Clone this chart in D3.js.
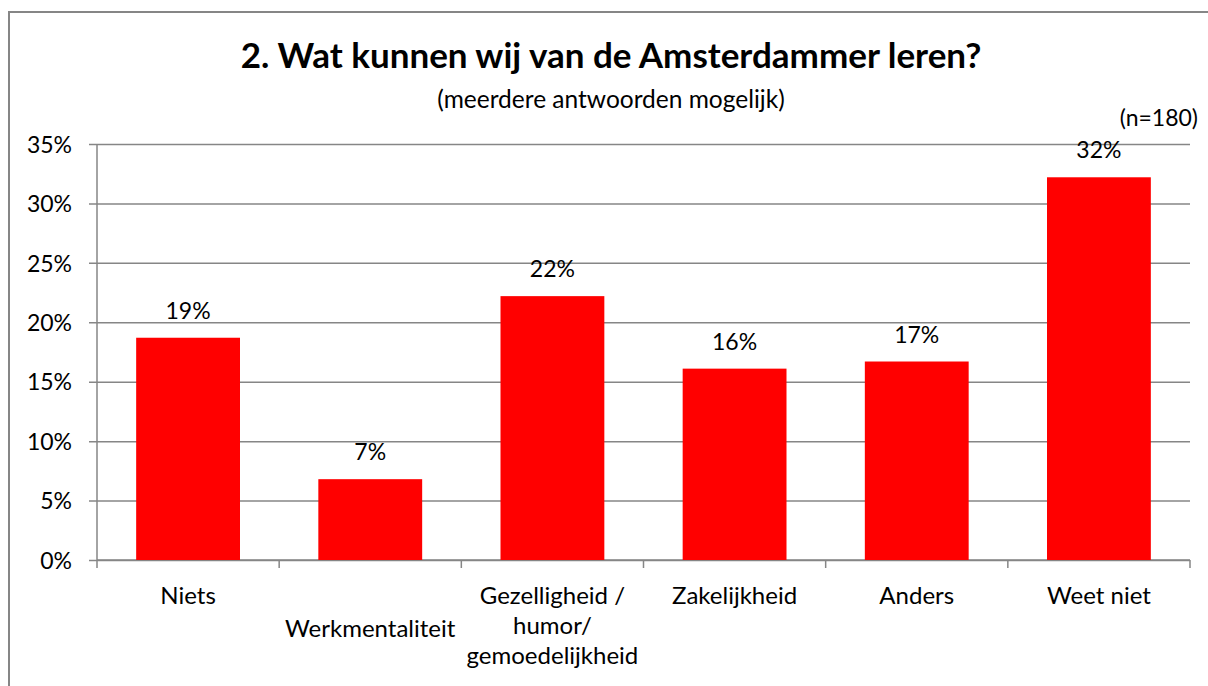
<!DOCTYPE html>
<html>
<head>
<meta charset="utf-8">
<script src="https://cdn.jsdelivr.net/npm/d3@7"></script>
<style>
  html, body { margin: 0; padding: 0; background: #fff; }
  svg { display: block; font-family: Lato, "Noto Sans", sans-serif; }
</style>
</head>
<body>
<svg id="chart" width="1208" height="686"></svg>
<script>
const categories = ["Niets", "Werkmentaliteit", "Gezelligheid /\nhumor/\ngemoedelijkheid", "Zakelijkheid", "Anders", "Weet niet"];
const values = [18.7, 6.8, 22.2, 16.1, 16.7, 32.2];
const valueLabels = ["19%", "7%", "22%", "16%", "17%", "32%"];
const yTicks = [0, 5, 10, 15, 20, 25, 30, 35];
const title = "2. Wat kunnen wij van de Amsterdammer leren?";
const subtitle = "(meerdere antwoorden mogelijk)";
const note = "(n=180)";

const svg = d3.select("#chart");
const gridColor = "#868686";

// outer border
svg.append("rect").attr("x", 9).attr("y", 12).attr("width", 1210).attr("height", 700)
  .attr("fill", "none").attr("stroke", "#868686").attr("stroke-width", 2);

const pLeft = 97, pRight = 1190, pTop = 144, pBottom = 560;
const x = d3.scaleBand().domain(categories).range([pLeft, pRight]).paddingInner(0.43).paddingOuter(0.215);
const xc = d3.scaleBand().domain(categories).range([pLeft, pRight]).padding(0);
const y = d3.scaleLinear().domain([0, 35]).range([pBottom, pTop]);

// gridlines + y ticks
const yAxis = d3.axisLeft(y).tickValues(yTicks).tickSize(-(pRight - pLeft)).tickFormat(d => d + "%").tickPadding(0);
const gy = svg.append("g").attr("transform", `translate(${pLeft},0)`).call(yAxis);
gy.select(".domain").remove();
gy.selectAll(".tick line").attr("stroke", gridColor).attr("stroke-width", 1.5).attr("x1", -8);
gy.selectAll(".tick text").attr("x", -25).attr("dy", "0.36em").attr("fill", "#000")
  .style("font-size", "23px").style("font-family", "Lato, sans-serif");

// y axis line
svg.append("line").attr("x1", pLeft).attr("x2", pLeft).attr("y1", pTop).attr("y2", pBottom)
  .attr("stroke", gridColor).attr("stroke-width", 1.5);

// x axis with category boundary ticks
svg.append("line").attr("x1", pLeft).attr("x2", pRight).attr("y1", pBottom).attr("y2", pBottom)
  .attr("stroke", gridColor).attr("stroke-width", 1.5);
const bounds = categories.map(c => xc(c)).concat([pRight]);
svg.append("g").selectAll("line").data(bounds).join("line")
  .attr("x1", d => d).attr("x2", d => d).attr("y1", pBottom).attr("y2", pBottom + 8)
  .attr("stroke", gridColor).attr("stroke-width", 1.5);

// bars
svg.append("g").selectAll("rect").data(values).join("rect")
  .attr("x", (d, i) => x(categories[i]))
  .attr("width", x.bandwidth())
  .attr("y", d => y(d))
  .attr("height", d => y(0) - y(d))
  .attr("fill", "#FF0000");

// value labels
svg.append("g").selectAll("text").data(values).join("text")
  .attr("x", (d, i) => x(categories[i]) + x.bandwidth() / 2)
  .attr("y", d => y(d) - 19)
  .attr("text-anchor", "middle")
  .style("font-size", "23px")
  .text((d, i) => valueLabels[i]);

// category labels (the long single-word label is pushed to a second row)
const lineH = 30;
const catG = svg.append("g");
categories.forEach((c, i) => {
  const row = (i === 1) ? 1 : 0;
  const cx = xc(c) + xc.bandwidth() / 2;
  const t = catG.append("text")
    .attr("x", cx)
    .attr("y", 604 + row * 33)
    .attr("text-anchor", "middle")
    .style("font-size", "24px");
  c.split("\n").forEach((line, j) => {
    t.append("tspan").attr("x", cx).attr("dy", j === 0 ? 0 : lineH).text(line);
  });
});

// titles
svg.append("text").attr("x", 611).attr("y", 68).attr("text-anchor", "middle")
  .style("font-size", "35px").style("font-weight", "bold").text(title);
svg.append("text").attr("x", 611).attr("y", 108).attr("text-anchor", "middle")
  .style("font-size", "24.5px").text(subtitle);
svg.append("text").attr("x", 1198).attr("y", 126).attr("text-anchor", "end")
  .style("font-size", "23px").text(note);
</script>
</body>
</html>
